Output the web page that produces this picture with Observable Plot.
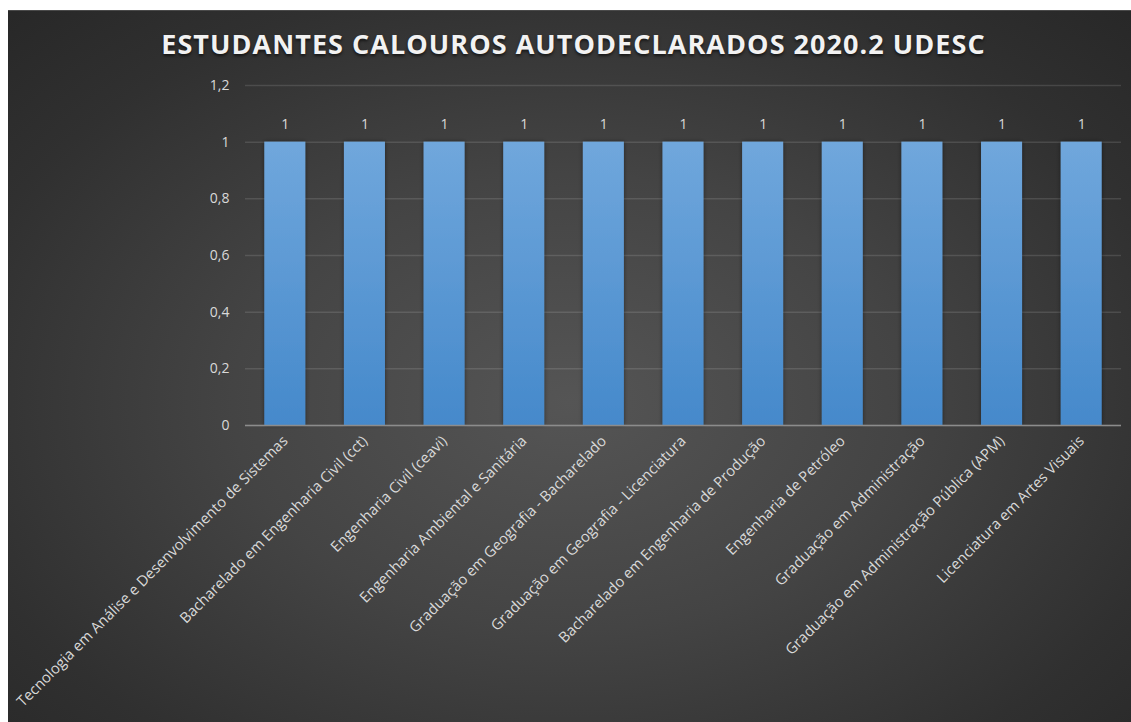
<!DOCTYPE html>
<html><head><meta charset="utf-8">
<script src="https://cdn.jsdelivr.net/npm/d3@7"></script>
<script src="https://cdn.jsdelivr.net/npm/@observablehq/plot@0.6"></script>
<style>
html,body{margin:0;padding:0;background:#fff;}
#chart{position:absolute;left:8px;top:10px;width:1123px;height:712px;overflow:hidden;
  background:radial-gradient(ellipse 75% 80% at 50% 55%, #555555 0%, #444444 40%, #303030 75%, #262626 100%);
  border-top:1px solid #4a4a4a;box-sizing:border-box;font-family:"Open Sans",sans-serif;}
#title{height:60px;text-align:center;color:#f2f2f2;font-weight:700;font-size:27px;letter-spacing:1.05px;
  line-height:60px;padding-top:3px;padding-left:8px;box-sizing:border-box;text-shadow:0 2px 3px rgba(0,0,0,0.6);}
#chart svg{display:block;}
#chart svg g[aria-label="bar"] rect{filter:url(#barShadow);}
</style></head><body>
<div id="chart"><div id="title">ESTUDANTES CALOUROS AUTODECLARADOS 2020.2 UDESC</div></div>
<script>
const categories = [
  "Tecnologia em Análise e Desenvolvimento de Sistemas",
  "Bacharelado em Engenharia Civil (cct)",
  "Engenharia Civil (ceavi)",
  "Engenharia Ambiental e Sanitária",
  "Graduação em Geografia - Bacharelado",
  "Graduação em Geografia - Licenciatura",
  "Bacharelado em Engenharia de Produção",
  "Engenharia de Petróleo",
  "Graduação em Administração",
  "Graduação em Administração Pública (APM)",
  "Licenciatura em Artes Visuais"
];
const values = [1, 1, 1, 1, 1, 1, 1, 1, 1, 1, 1];
const yTicks = [0, 0.2, 0.4, 0.6, 0.8, 1, 1.2];

const data = categories.map((c, i) => ({course: c, value: values[i]}));

const plot = Plot.plot({
  width: 1123, height: 651,
  marginTop: 14, marginBottom: 297, marginLeft: 237, marginRight: 10,
  style: {background: "transparent", color: "#d9d9d9", fontFamily: "'Open Sans', sans-serif", fontSize: "14px", overflow: "visible"},
  x: {domain: categories, paddingInner: 0.485, paddingOuter: 0.2425, round: false, label: null},
  y: {domain: [0, 1.2], label: null},
  marks: [
    Plot.gridY(yTicks, {stroke: "#ffffff", strokeOpacity: 0.12, strokeWidth: 1.5}),
    Plot.barY(data, {x: "course", y: "value", fill: "url(#barGrad)"}),
    Plot.ruleY([0], {stroke: "#8c8c8c", strokeWidth: 1.5}),
    Plot.text(data, {x: "course", y: "value", text: d => String(d.value), dy: -18, fill: "#d9d9d9", fontSize: 14}),
    Plot.axisY(yTicks, {tickSize: 0, tickPadding: 16, tickFormat: d => String(d).replace(".", ","), fontSize: 14, label: null}),
    Plot.axisX({tickSize: 0, tickRotate: -45, tickPadding: 13, fontSize: 14.8, label: null})
  ]
});

d3.select(plot).insert("defs", ":first-child").html(`
  <linearGradient id="barGrad" x1="0" y1="0" x2="0" y2="1">
    <stop offset="0%" stop-color="#70a7dc"/>
    <stop offset="100%" stop-color="#4589cb"/>
  </linearGradient>
  <filter id="barShadow" x="-30%" y="-10%" width="160%" height="120%">
    <feDropShadow dx="0" dy="0" stdDeviation="2" flood-color="#000" flood-opacity="0.45"/>
  </filter>`);

document.getElementById("chart").appendChild(plot);
</script>
</body></html>
